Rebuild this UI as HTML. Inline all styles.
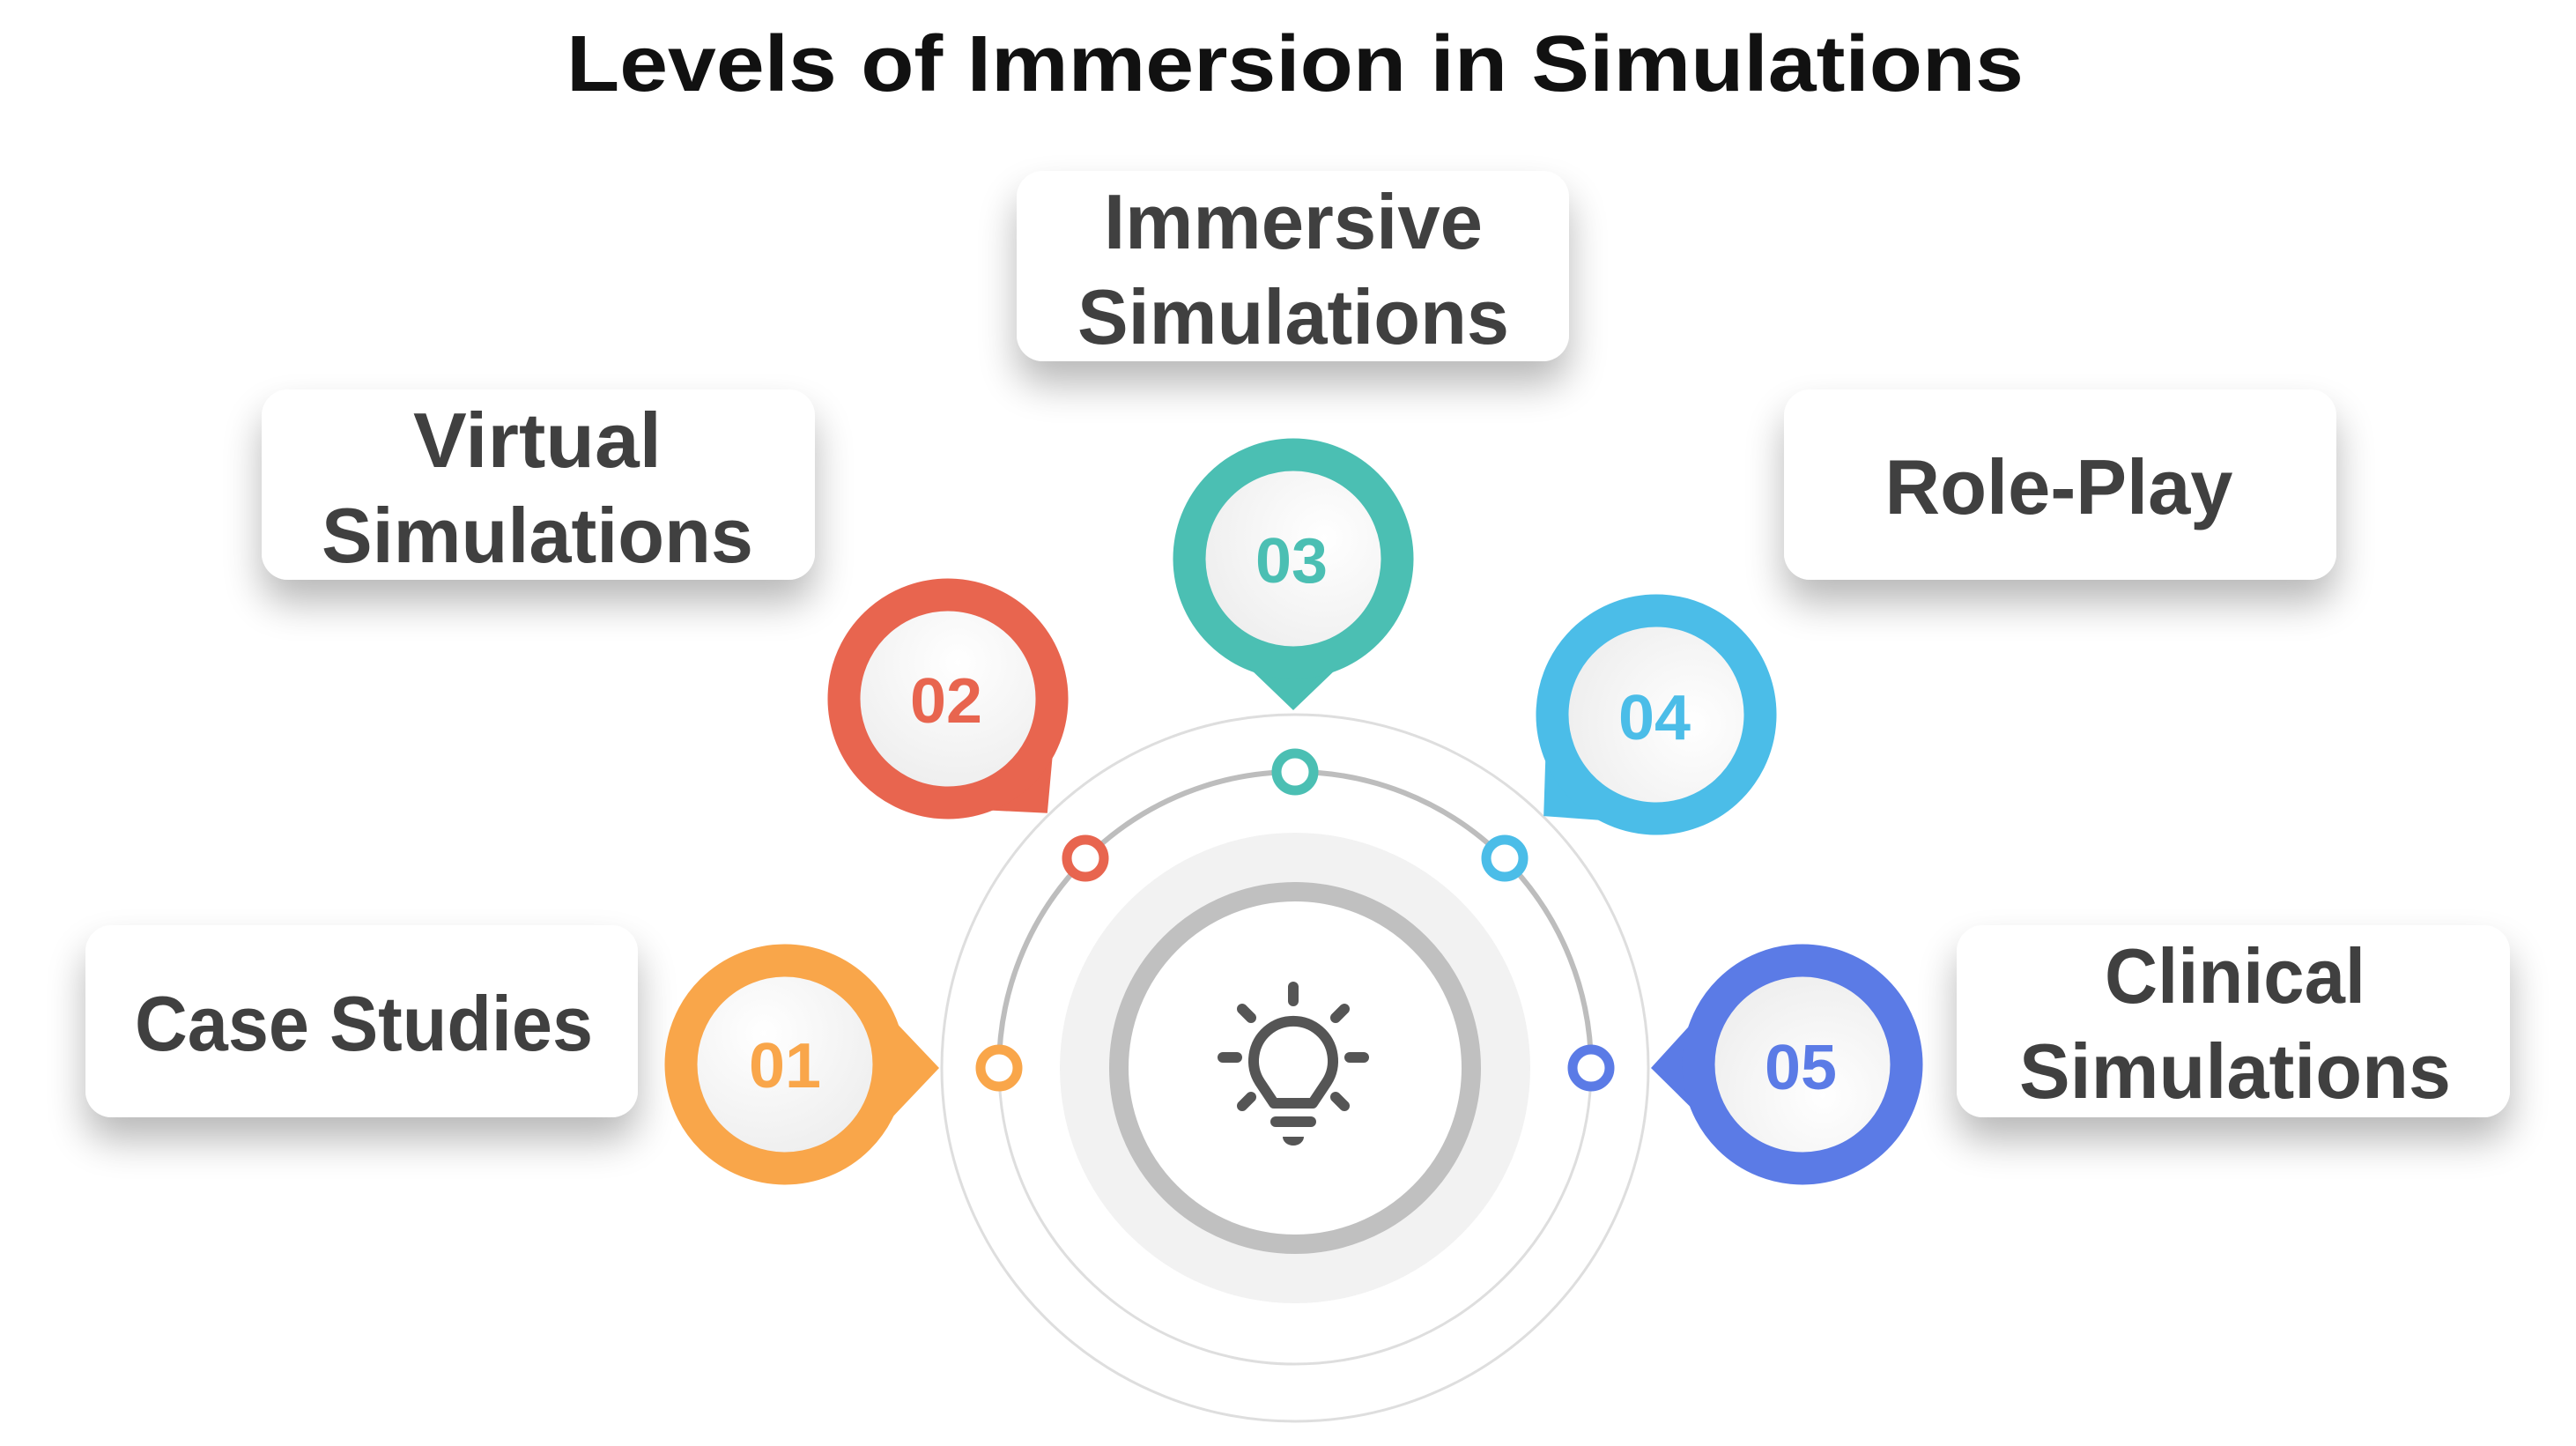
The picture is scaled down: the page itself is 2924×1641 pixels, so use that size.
<!DOCTYPE html>
<html><head><meta charset="utf-8"><style>
html,body{margin:0;padding:0;background:#fff;}
svg{display:block;}
text{font-family:"Liberation Sans","DejaVu Sans",sans-serif;font-weight:bold;}
</style></head><body>
<svg width="2924" height="1641" viewBox="0 0 2924 1641" xmlns="http://www.w3.org/2000/svg">
<defs>
<filter id="sh" x="-30%" y="-40%" width="160%" height="200%">
<feGaussianBlur in="SourceAlpha" stdDeviation="22"/>
<feOffset dy="26"/>
<feComponentTransfer><feFuncA type="linear" slope="0.28"/></feComponentTransfer>
<feMerge><feMergeNode/><feMergeNode in="SourceGraphic"/></feMerge>
</filter>
<radialGradient id="ig" cx="40%" cy="35%" r="70%">
<stop offset="0" stop-color="#ffffff"/><stop offset="1" stop-color="#ececec"/>
</radialGradient>
</defs>

<text x="1470" y="103" font-size="90" text-anchor="middle" fill="#111" textLength="1654" lengthAdjust="spacingAndGlyphs">Levels of Immersion in Simulations</text>

<!-- boxes -->
<g filter="url(#sh)" fill="#fff">
<rect x="1154" y="194" width="627" height="216" rx="30"/>
<rect x="297" y="442" width="628" height="216" rx="30"/>
<rect x="2025" y="442" width="627" height="216" rx="30"/>
<rect x="97" y="1050" width="627" height="218" rx="30"/>
<rect x="2221" y="1050" width="628" height="218" rx="30"/>
</g>
<g fill="#404040" font-size="88" text-anchor="middle">
<text x="1468" y="282" textLength="430" lengthAdjust="spacingAndGlyphs">Immersive</text>
<text x="1468" y="390" textLength="490" lengthAdjust="spacingAndGlyphs">Simulations</text>
<text x="610" y="530" textLength="282" lengthAdjust="spacingAndGlyphs">Virtual</text>
<text x="610" y="638" textLength="490" lengthAdjust="spacingAndGlyphs">Simulations</text>
<text x="2337" y="583" textLength="395" lengthAdjust="spacingAndGlyphs">Role-Play</text>
<text x="413" y="1192" textLength="520" lengthAdjust="spacingAndGlyphs">Case Studies</text>
<text x="2537" y="1138" textLength="296" lengthAdjust="spacingAndGlyphs">Clinical</text>
<text x="2537" y="1246" textLength="490" lengthAdjust="spacingAndGlyphs">Simulations</text>
</g>

<!-- rings -->
<circle cx="1470" cy="1212" r="401" fill="none" stroke="#dedede" stroke-width="3"/>
<circle cx="1470" cy="1212" r="336" fill="none" stroke="#dedede" stroke-width="3"/>
<path d="M1134 1212 A336 336 0 0 1 1806 1212" fill="none" stroke="#bdbdbd" stroke-width="6"/>
<circle cx="1470" cy="1212" r="267" fill="#f2f2f2"/>
<circle cx="1470" cy="1212" r="200" fill="#fff" stroke="#c0c0c0" stroke-width="22"/>

<!-- bulb -->
<g stroke="#555" stroke-width="12" stroke-linecap="round" fill="none">
<path d="M1446 1252 L1430 1228 A45 45 0 1 1 1506 1228 L1490 1252 Z" stroke-linejoin="round"/>
<line x1="1448" y1="1273" x2="1488" y2="1273"/>
<line x1="1468" y1="1120" x2="1468" y2="1136"/>
<line x1="1388" y1="1200" x2="1404" y2="1200"/>
<line x1="1532" y1="1200" x2="1548" y2="1200"/>
<line x1="1410" y1="1145" x2="1420" y2="1155"/>
<line x1="1526" y1="1145" x2="1516" y2="1155"/>
<line x1="1410" y1="1255" x2="1420" y2="1245"/>
<line x1="1526" y1="1255" x2="1516" y2="1245"/>
</g>
<path d="M1456 1290 L1480 1290 A12 10 0 0 1 1456 1290 Z" fill="#555"/>

<!-- dots -->
<g fill="#fff" stroke-width="11">
<circle cx="1134" cy="1212" r="21" stroke="#f9a64a"/>
<circle cx="1232" cy="974" r="21" stroke="#e8654f"/>
<circle cx="1470" cy="876" r="21" stroke="#4bbfb3"/>
<circle cx="1708" cy="974" r="21" stroke="#4bbde8"/>
<circle cx="1806" cy="1212" r="21" stroke="#5b7be6"/>
</g>

<!-- pins -->
<g>
<g transform="translate(891,1208) rotate(0)"><path d="M100 -75 L175 4 L100 83 Z" fill="#f9a64a"/><circle r="118" fill="url(#ig)" stroke="#f9a64a" stroke-width="37"/></g>
<g transform="translate(1076,793) rotate(49)"><path d="M100 -75 L172 0 L100 75 Z" fill="#e8654f"/><circle r="118" fill="url(#ig)" stroke="#e8654f" stroke-width="37"/></g>
<g transform="translate(1468,634) rotate(90)"><path d="M100 -75 L172 0 L100 75 Z" fill="#4bbfb3"/><circle r="118" fill="url(#ig)" stroke="#4bbfb3" stroke-width="37"/></g>
<g transform="translate(1880,811) rotate(138)"><path d="M100 -75 L172 0 L100 75 Z" fill="#4bbde8"/><circle r="118" fill="url(#ig)" stroke="#4bbde8" stroke-width="37"/></g>
<g transform="translate(2046,1208) rotate(180)"><path d="M100 -75 L172 -4 L100 75 Z" fill="#5b7be6"/><circle r="118" fill="url(#ig)" stroke="#5b7be6" stroke-width="37"/></g>
</g>
<g font-size="72" text-anchor="middle">
<text x="891" y="1234" fill="#f9a64a" textLength="82" lengthAdjust="spacingAndGlyphs">01</text>
<text x="1074" y="820" fill="#e8654f" textLength="82" lengthAdjust="spacingAndGlyphs">02</text>
<text x="1466" y="661" fill="#4bbfb3" textLength="82" lengthAdjust="spacingAndGlyphs">03</text>
<text x="1878" y="839" fill="#4bbde8" textLength="82" lengthAdjust="spacingAndGlyphs">04</text>
<text x="2044" y="1236" fill="#5b7be6" textLength="82" lengthAdjust="spacingAndGlyphs">05</text>
</g>
</svg>
</body></html>
